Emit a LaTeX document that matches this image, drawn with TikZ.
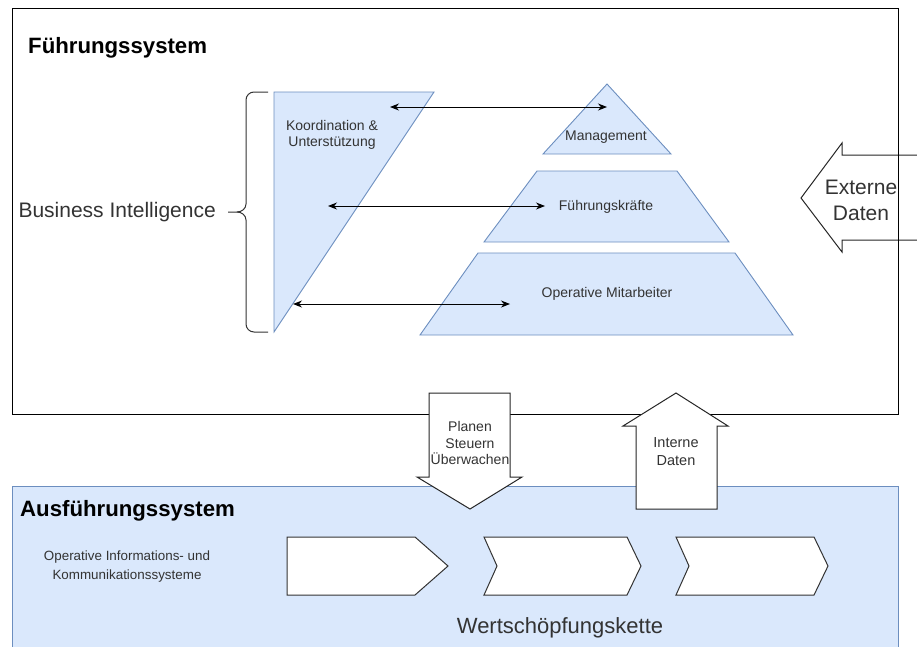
\documentclass[tikz,border=0pt]{standalone}
\usepackage{fontspec}
\setmainfont{Liberation Sans}
\usetikzlibrary{arrows.meta}
\definecolor{bifill}{HTML}{DAE8FC}
\definecolor{biline}{HTML}{6C8EBF}
\definecolor{txt}{HTML}{333333}

\tikzset{
  layer/.style={fill=bifill, draw=biline, line width=0.9pt, line join=miter},
  bigarrow/.style={fill=white, draw=black!85, line width=1pt, line join=miter},
  chev/.style={fill=white, draw=black!80, line width=1pt, line join=miter},
  link/.style={{Stealth[length=9pt,width=7pt]}-{Stealth[length=9pt,width=7pt]}, line width=1pt, black},
  lbl/.style={text=txt, align=center, inner sep=0pt, font=\fontsize{14}{16.5}\selectfont},
  biglbl/.style={text=txt, align=center, inner sep=0pt, font=\fontsize{21}{26}\selectfont},
  title/.style={anchor=base west, inner sep=0pt, font=\bfseries\fontsize{22.2}{26}\selectfont},
}

\begin{document}
\begin{tikzpicture}[x=1pt, y=-1pt]
\useasboundingbox (0,0) rectangle (917,646);

% incoming external data, behind the management frame
\draw[bigarrow] (801,198) -- (842,143) -- (842,155) -- (940,155) -- (940,240)
  -- (842,240) -- (842,252) -- cycle;
\node[biglbl] (extern) at (861,200) {Externe\\Daten};

% management frame
\draw[draw=black, line width=1pt] (12.5,8) rectangle (898,414.5);
\node[title] (fsys) at (28,53) {Führungssystem};

% execution frame
\draw[layer] (12.5,486) rectangle (898,670);
\node[title] (asys) at (20,516) {Ausführungssystem};

% coordination wedge and management pyramid
\draw[layer] (274,92) -- (434,92) -- (274,332) -- cycle;
\node[lbl] (koord) at (332,135) {Koordination \&\\Unterstützung};

\draw[layer] (607,84) -- (671,154) -- (543,154) -- cycle;
\node[lbl] (mgmt) at (606,137) {Management};

\draw[layer] (537,171) -- (677,171) -- (729,242) -- (484,242) -- cycle;
\node[lbl] (fk) at (606,207) {Führungskräfte};

\draw[layer] (478,253) -- (735,253) -- (793,335) -- (420,335) -- cycle;
\node[lbl] (opma) at (607,294) {Operative Mitarbeiter};

% links between the wedge and each level
\coordinate (k1) at (390,107);  \coordinate (m1) at (607,107);
\coordinate (k2) at (328,206);  \coordinate (m2) at (545,206);
\coordinate (k3) at (293,304);  \coordinate (m3) at (510,304);
\draw[link] (k1) -- (m1);
\draw[link] (k2) -- (m2);
\draw[link] (k3) -- (m3);

% curly brace for business intelligence
\draw[black!80, line width=1pt]
  (268,92) -- (254,92) to[out=180,in=90] (246,100) -- (246,204)
  to[out=-90,in=0] (237,212) -- (228,212);
\draw[black!80, line width=1pt]
  (237,212) to[out=0,in=90] (246,220) -- (246,324)
  to[out=-90,in=180] (254,332) -- (268,332);
\node[biglbl, anchor=east, font=\fontsize{21}{24}\selectfont] (bi) at (216,212) {Business Intelligence};

% downward control arrow
\draw[bigarrow] (429,393) -- (510,393) -- (510,477) -- (522,477) -- (470,509)
  -- (417,477) -- (429,477) -- cycle;
\node[lbl] (plan) at (470,443) {Planen\\Steuern\\Überwachen};

% upward internal data arrow
\draw[bigarrow] (676,393) -- (728,426) -- (717,426) -- (717,509) -- (636,509)
  -- (636,426) -- (623,426) -- cycle;
\node[lbl, font=\fontsize{14.5}{18}\selectfont] (intern) at (676,452) {Interne\\Daten};

% value chain
\draw[chev] (287,537) -- (415,537) -- (448,566) -- (415,595) -- (287,595) -- cycle;
\draw[chev] (484,537) -- (627,537) -- (641,566) -- (627,595) -- (484,595) -- (497,566) -- cycle;
\draw[chev] (676,537) -- (814,537) -- (828,566) -- (814,595) -- (676,595) -- (689,566) -- cycle;

\node[lbl, font=\fontsize{13.4}{19}\selectfont] (oiks) at (127,567) {Operative Informations- und\\Kommunikationssysteme};
\node[biglbl, font=\fontsize{22}{26}\selectfont] (wsk) at (560,628) {Wertschöpfungskette};

\end{tikzpicture}
\end{document}
